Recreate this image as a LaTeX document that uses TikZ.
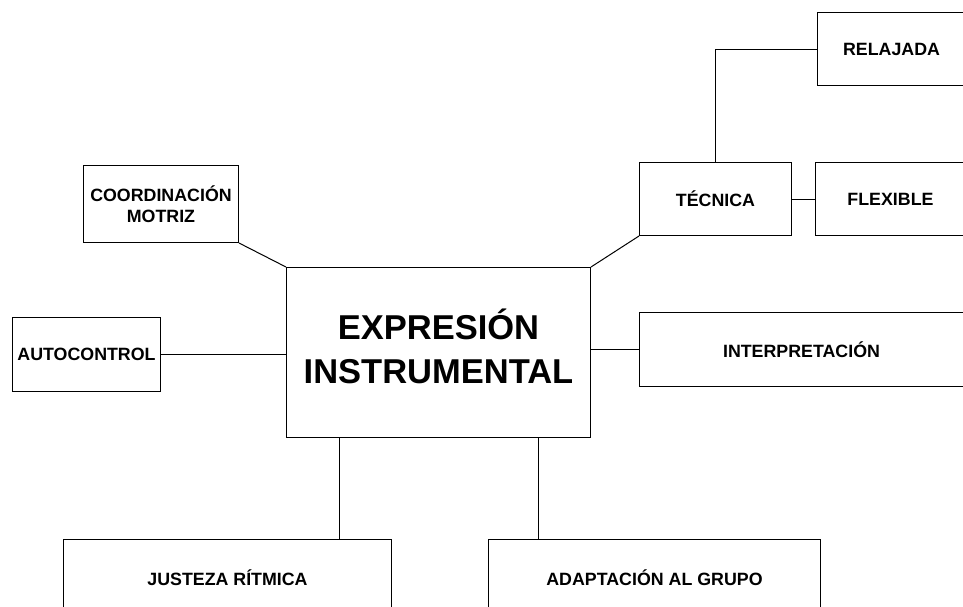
\documentclass[tikz,border=0pt]{standalone}
\usepackage{fontspec}
\setmainfont{Liberation Sans}
\begin{document}
\begin{tikzpicture}[x=1pt,y=-1pt,
  box/.style={draw, line width=1pt, rectangle, inner sep=0pt, align=center,
    font=\fontsize{17.8}{21}\selectfont\bfseries, anchor=north west},
  link/.style={line width=1pt}]
\useasboundingbox (0,0) rectangle (963,606);
\clip (0,0) rectangle (963,606);
\node[box, minimum width=304pt, minimum height=170pt,
  font=\fontsize{34.5}{43}\selectfont\bfseries] (main) at (286,267)
  {\raisebox{13pt}{\begin{tabular}{@{}c@{}}EXPRESIÓN\\[1pt]INSTRUMENTAL\end{tabular}}};
\node[box, minimum width=155pt, minimum height=77pt] (coord) at (83,165) {COORDINACIÓN\\MOTRIZ};
\node[box, minimum width=148pt, minimum height=74pt] (auto) at (12,317) {AUTOCONTROL};
\node[box, minimum width=152pt, minimum height=73pt] (tec) at (639,162) {TÉCNICA};
\node[box, minimum width=200pt, minimum height=73pt] (flex) at (815,162) {\makebox[150pt]{FLEXIBLE}\hspace*{50pt}};
\node[box, minimum width=200pt, minimum height=73pt] (rel) at (817,12) {\makebox[148pt]{RELAJADA}\hspace*{52pt}};
\node[box, minimum width=380pt, minimum height=74pt] (interp) at (639,312) {\makebox[324pt]{INTERPRETACIÓN}\hspace*{56pt}};
\node[box, minimum width=328pt, minimum height=76pt] (just) at (63,539) {JUSTEZA RÍTMICA};
\node[box, minimum width=332pt, minimum height=76pt] (adapt) at (488,539) {ADAPTACIÓN AL GRUPO};
\draw[link] (coord.south east) -- (main.north west);
\draw[link] (auto.east) -- (auto.east -| main.west);
\draw[link] (tec.south west) -- (main.north east);
\draw[link] (tec.east) -- (flex.west);
\draw[link] (tec.north) |- (rel.west);
\draw[link] (interp.west -| main.east) -- (interp.west);
\draw[link] ([xshift=53pt]main.south west) -- ([xshift=53pt]main.south west |- just.north);
\draw[link] ([xshift=252pt]main.south west) -- ([xshift=252pt]main.south west |- adapt.north);
\end{tikzpicture}
\end{document}
